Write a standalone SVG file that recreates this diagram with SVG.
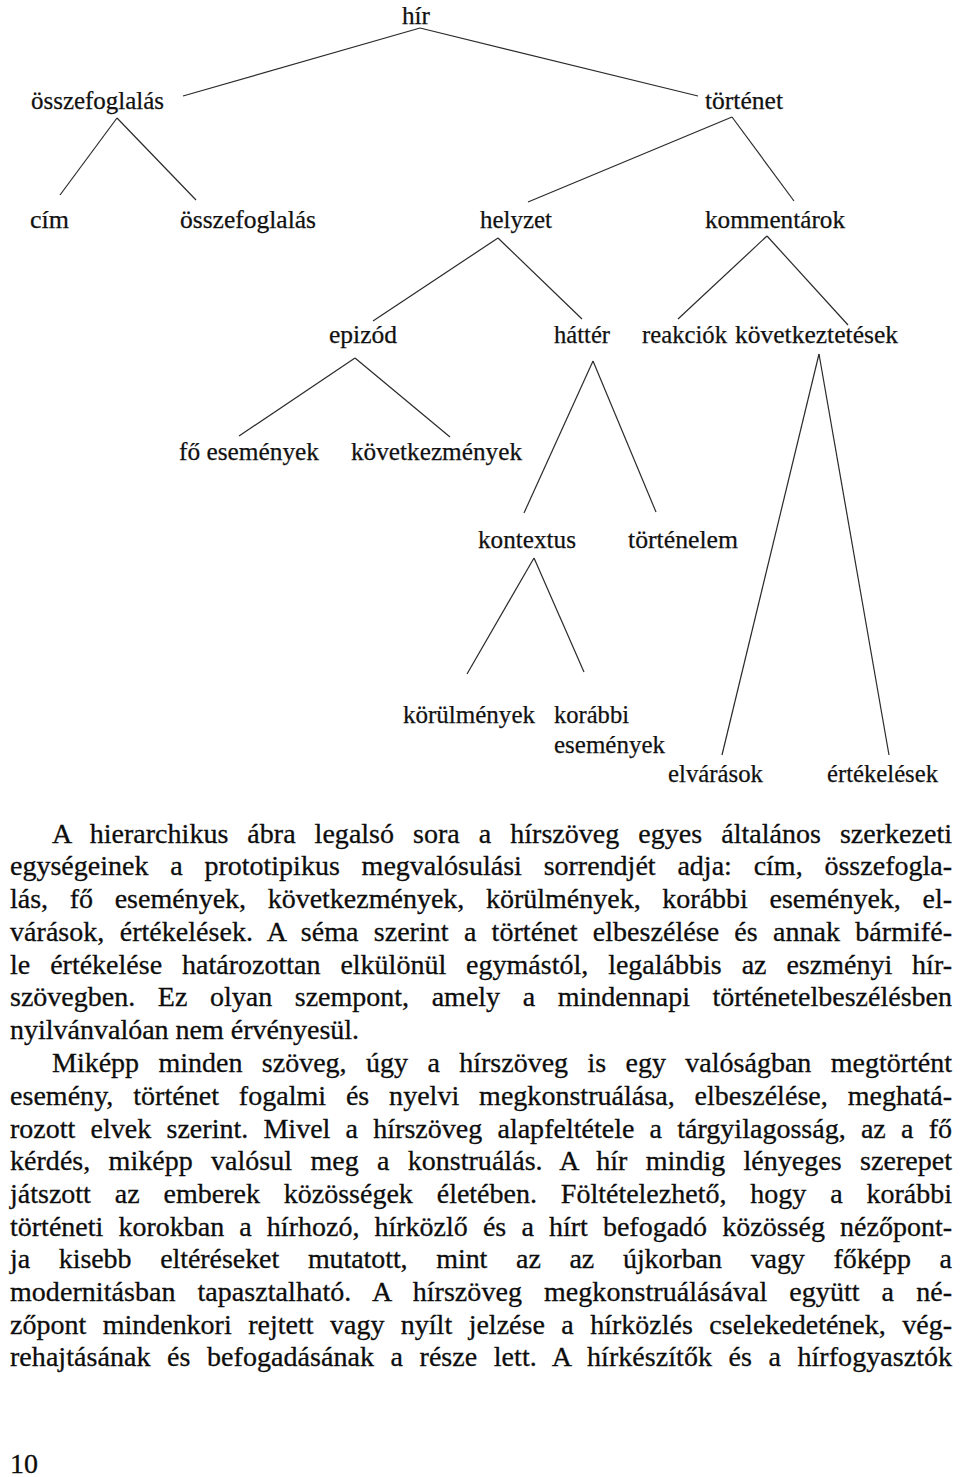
<svg xmlns="http://www.w3.org/2000/svg" width="960" height="1477" viewBox="0 0 960 1477">
<style>
.lbl{font-family:"Liberation Serif","Times New Roman",serif;font-size:25px;fill:#111;stroke:#111;stroke-width:0.25}
.body{font-family:"Liberation Serif","Times New Roman",serif;font-size:28px;fill:#0d0d0d;stroke:#0d0d0d;stroke-width:0.3}
.edge{stroke:#2a2a2a;stroke-width:1.2;fill:none}
</style>
<rect width="960" height="1477" fill="#fff"/>
<g id="connectors">
<line class="edge" x1="420" y1="28" x2="183" y2="96"/>
<line class="edge" x1="420" y1="28" x2="698" y2="96"/>
<line class="edge" x1="117" y1="118" x2="60" y2="195"/>
<line class="edge" x1="117" y1="118" x2="196" y2="200"/>
<line class="edge" x1="732" y1="117" x2="528" y2="202"/>
<line class="edge" x1="732" y1="117" x2="794" y2="201"/>
<line class="edge" x1="498" y1="238" x2="373" y2="321"/>
<line class="edge" x1="498" y1="238" x2="582" y2="319"/>
<line class="edge" x1="767" y1="236" x2="678" y2="319"/>
<line class="edge" x1="767" y1="236" x2="848" y2="325"/>
<line class="edge" x1="355" y1="358" x2="239" y2="436"/>
<line class="edge" x1="355" y1="358" x2="450" y2="437"/>
<line class="edge" x1="593" y1="361" x2="524" y2="513"/>
<line class="edge" x1="593" y1="361" x2="656" y2="512"/>
<line class="edge" x1="819" y1="354" x2="722" y2="755"/>
<line class="edge" x1="819" y1="354" x2="889" y2="755"/>
<line class="edge" x1="534" y1="558" x2="467" y2="674"/>
<line class="edge" x1="534" y1="558" x2="584" y2="672"/>
</g>
<g id="n-hir"><text class="lbl" x="402" y="24" textLength="28" lengthAdjust="spacingAndGlyphs">hír</text></g>
<g id="n-osszefoglalas1"><text class="lbl" x="31" y="109" textLength="133" lengthAdjust="spacingAndGlyphs">összefoglalás</text></g>
<g id="n-tortenet"><text class="lbl" x="705" y="109" textLength="78" lengthAdjust="spacingAndGlyphs">történet</text></g>
<g id="n-cim"><text class="lbl" x="30" y="228" textLength="39" lengthAdjust="spacingAndGlyphs">cím</text></g>
<g id="n-osszefoglalas2"><text class="lbl" x="180" y="228" textLength="136" lengthAdjust="spacingAndGlyphs">összefoglalás</text></g>
<g id="n-helyzet"><text class="lbl" x="480" y="228" textLength="72" lengthAdjust="spacingAndGlyphs">helyzet</text></g>
<g id="n-kommentarok"><text class="lbl" x="705" y="228" textLength="140" lengthAdjust="spacingAndGlyphs">kommentárok</text></g>
<g id="n-epizod"><text class="lbl" x="329" y="343" textLength="68" lengthAdjust="spacingAndGlyphs">epizód</text></g>
<g id="n-hatter"><text class="lbl" x="554" y="343" textLength="56" lengthAdjust="spacingAndGlyphs">háttér</text></g>
<g id="n-reakciok"><text class="lbl" x="642" y="343" textLength="85" lengthAdjust="spacingAndGlyphs">reakciók</text></g>
<g id="n-kovetkeztetesek"><text class="lbl" x="735" y="343" textLength="163" lengthAdjust="spacingAndGlyphs">következtetések</text></g>
<g id="n-fo-esemenyek"><text class="lbl" x="179" y="460" textLength="140" lengthAdjust="spacingAndGlyphs">fő események</text></g>
<g id="n-kovetkezmenyek"><text class="lbl" x="351" y="460" textLength="171" lengthAdjust="spacingAndGlyphs">következmények</text></g>
<g id="n-kontextus"><text class="lbl" x="478" y="548" textLength="98" lengthAdjust="spacingAndGlyphs">kontextus</text></g>
<g id="n-tortenelem"><text class="lbl" x="628" y="548" textLength="110" lengthAdjust="spacingAndGlyphs">történelem</text></g>
<g id="n-korulmenyek"><text class="lbl" x="403" y="723" textLength="132" lengthAdjust="spacingAndGlyphs">körülmények</text></g>
<g id="n-korabbi-esemenyek"><text class="lbl" x="554" y="723" textLength="75" lengthAdjust="spacingAndGlyphs">korábbi</text><text class="lbl" x="554" y="753" textLength="111" lengthAdjust="spacingAndGlyphs">események</text></g>
<g id="n-elvarasok"><text class="lbl" x="668" y="782" textLength="95" lengthAdjust="spacingAndGlyphs">elvárások</text></g>
<g id="n-ertekelesek"><text class="lbl" x="827" y="782" textLength="111" lengthAdjust="spacingAndGlyphs">értékelések</text></g>
<g id="body-text">
<text class="body" x="52" y="843" word-spacing="12" textLength="900" lengthAdjust="spacing">A hierarchikus ábra legalsó sora a hírszöveg egyes általános szerkezeti</text>
<text class="body" x="10" y="875" word-spacing="14.8" textLength="942" lengthAdjust="spacing">egységeinek a prototipikus megvalósulási sorrendjét adja: cím, összefogla-</text>
<text class="body" x="10" y="908" word-spacing="14.6" textLength="942" lengthAdjust="spacing">lás, fő események, következmények, körülmények, korábbi események, el-</text>
<text class="body" x="10" y="941" word-spacing="8.2" textLength="942" lengthAdjust="spacing">várások, értékelések. A séma szerint a történet elbeszélése és annak bármifé-</text>
<text class="body" x="10" y="974" word-spacing="12.9" textLength="942" lengthAdjust="spacing">le értékelése határozottan elkülönül egymástól, legalábbis az eszményi hír-</text>
<text class="body" x="10" y="1006" word-spacing="15.6" textLength="942" lengthAdjust="spacing">szövegben. Ez olyan szempont, amely a mindennapi történetelbeszélésben</text>
<text class="body" x="10" y="1039">nyilvánvalóan nem érvényesül.</text>
<text class="body" x="52" y="1072" word-spacing="12.4" textLength="900" lengthAdjust="spacing">Miképp minden szöveg, úgy a hírszöveg is egy valóságban megtörtént</text>
<text class="body" x="10" y="1105" word-spacing="12.8" textLength="942" lengthAdjust="spacing">esemény, történet fogalmi és nyelvi megkonstruálása, elbeszélése, meghatá-</text>
<text class="body" x="10" y="1138" word-spacing="8.2" textLength="942" lengthAdjust="spacing">rozott elvek szerint. Mivel a hírszöveg alapfeltétele a tárgyilagosság, az a fő</text>
<text class="body" x="10" y="1170" word-spacing="11.2" textLength="942" lengthAdjust="spacing">kérdés, miképp valósul meg a konstruálás. A hír mindig lényeges szerepet</text>
<text class="body" x="10" y="1203" word-spacing="16.9" textLength="942" lengthAdjust="spacing">játszott az emberek közösségek életében. Föltételezhető, hogy a korábbi</text>
<text class="body" x="10" y="1236" word-spacing="8.1" textLength="942" lengthAdjust="spacing">történeti korokban a hírhozó, hírközlő és a hírt befogadó közösség nézőpont-</text>
<text class="body" x="10" y="1268" word-spacing="21.8" textLength="942" lengthAdjust="spacing">ja kisebb eltéréseket mutatott, mint az az újkorban vagy főképp a</text>
<text class="body" x="10" y="1301" word-spacing="15" textLength="942" lengthAdjust="spacing">modernitásban tapasztalható. A hírszöveg megkonstruálásával együtt a né-</text>
<text class="body" x="10" y="1334" word-spacing="9.5" textLength="942" lengthAdjust="spacing">zőpont mindenkori rejtett vagy nyílt jelzése a hírközlés cselekedetének, vég-</text>
<text class="body" x="10" y="1366" word-spacing="9.5" textLength="942" lengthAdjust="spacing">rehajtásának és befogadásának a része lett. A hírkészítők és a hírfogyasztók</text>
<text class="body" x="10" y="1473">10</text>
</g>
</svg>
